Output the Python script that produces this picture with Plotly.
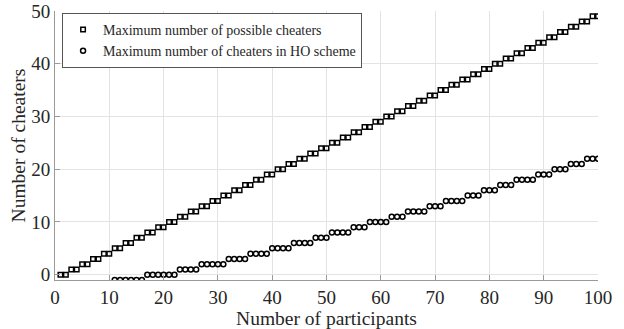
import plotly.graph_objects as go

# Data
participants_sq = list(range(1, 101))
max_possible = [(n - 1) // 2 for n in participants_sq]

participants_ho = list(range(11, 101))
ho_groups = [(-1, 6), (0, 6), (1, 4), (2, 5), (3, 4), (4, 4), (5, 4), (6, 4), (7, 3),
             (8, 4), (9, 3), (10, 4), (11, 3), (12, 4), (13, 3), (14, 4), (15, 3),
             (16, 3), (17, 3), (18, 4), (19, 3), (20, 3), (21, 3), (22, 3)]
max_ho = []
for val, cnt in ho_groups:
    max_ho += [val] * cnt

x_ticks = list(range(0, 101, 10))
y_ticks = list(range(0, 51, 10))

FONT = "Liberation Serif"

fig = go.Figure()
fig.add_trace(go.Scatter(
    x=participants_sq, y=max_possible, mode="markers",
    name="Maximum number of possible cheaters",
    marker=dict(symbol="square-open", size=4.5, color="black", line=dict(width=1.5, color="black")),
))
fig.add_trace(go.Scatter(
    x=participants_ho, y=max_ho, mode="markers",
    name="Maximum number of cheaters in HO scheme",
    marker=dict(symbol="circle-open", size=5, color="black", line=dict(width=1.5, color="black")),
))

axis_common = dict(
    showgrid=True, gridcolor="#e3e3e3", gridwidth=1,
    showline=True, linecolor="#9a9a9a", linewidth=1,
    ticks="inside", ticklen=5, tickcolor="#9a9a9a",
    zeroline=False, mirror=False, automargin=False,
    tickfont=dict(family=FONT, size=19, color="#262626"),
)

fig.update_layout(
    width=624, height=329,
    margin=dict(l=55, r=26, t=11, b=49),
    paper_bgcolor="white", plot_bgcolor="white",
    font=dict(family=FONT, color="#262626"),
    xaxis=dict(range=[0, 100], tickvals=x_ticks,
               title=dict(text="Number of participants", font=dict(family=FONT, size=19.5, color="#262626"), standoff=4),
               **axis_common),
    yaxis=dict(range=[-1, 50], tickvals=y_ticks,
               title=dict(text="Number of cheaters", font=dict(family=FONT, size=19.5, color="#262626"), standoff=0),
               **axis_common),
    legend=dict(
        x=0.013, y=0.993, xanchor="left", yanchor="top",
        bgcolor="white", bordercolor="#555", borderwidth=1,
        font=dict(family=FONT, size=14, color="#262626"),
        itemwidth=30, tracegroupgap=0,
    ),
    showlegend=True,
)

# remove the default 8px page margin so the figure fills the window exactly
fig.write_html("out.html", config={"displayModeBar": False},
               post_script="document.body.style.margin='0';document.body.style.overflow='hidden';")
